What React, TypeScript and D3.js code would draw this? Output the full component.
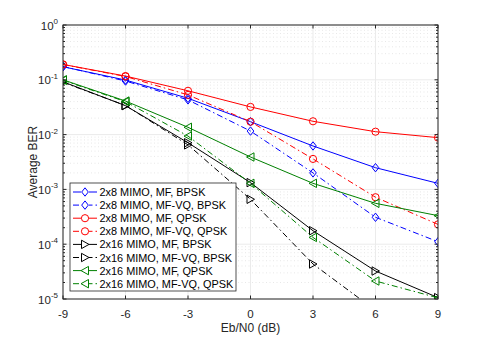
import * as d3 from 'd3';

// Eb/N0 points (dB)
const snr = [-9, -6, -3, 0, 3, 6, 9];

// BER
const mimo8MfBpsk = [0.173, 0.099, 0.046, 0.0172, 0.0062, 0.00249, 0.00129];
const mimo8VqBpsk = [0.175, 0.095, 0.043, 0.0116, 0.0020, 0.00031, 0.000111];
const mimo8MfQpsk = [0.191, 0.117, 0.063, 0.032, 0.0175, 0.0113, 0.0088];
const mimo8VqQpsk = [0.19, 0.115, 0.053, 0.0172, 0.0036, 0.00072, 0.00023];
const mimo16MfBpsk = [0.092, 0.0337, 0.0071, 0.00133, 0.000176, 0.0000324, 0.0000106];
const mimo16VqBpsk = [0.09, 0.034, 0.0065, 0.00066, 0.0000435, 0.0000062, 0.0000009];
const mimo16MfQpsk = [0.1, 0.041, 0.0136, 0.0039, 0.00129, 0.000557, 0.000332];
const mimo16VqQpsk = [0.098, 0.04, 0.0094, 0.00129, 0.000133, 0.0000213, 0.0000105];

const xTicks = [-9, -6, -3, 0, 3, 6, 9];
const yExps = [0, -1, -2, -3, -4, -5];

type Marker = 'diamond' | 'circle' | 'tright' | 'tleft';
const series: { name: string; values: number[]; color: string; dashed: boolean; marker: Marker }[] = [
  { name: '2x8 MIMO, MF, BPSK', values: mimo8MfBpsk, color: '#0000ff', dashed: false, marker: 'diamond' },
  { name: '2x8 MIMO, MF-VQ, BPSK', values: mimo8VqBpsk, color: '#0000ff', dashed: true, marker: 'diamond' },
  { name: '2x8 MIMO, MF, QPSK', values: mimo8MfQpsk, color: '#ff0000', dashed: false, marker: 'circle' },
  { name: '2x8 MIMO, MF-VQ, QPSK', values: mimo8VqQpsk, color: '#ff0000', dashed: true, marker: 'circle' },
  { name: '2x16 MIMO, MF, BPSK', values: mimo16MfBpsk, color: '#000000', dashed: false, marker: 'tright' },
  { name: '2x16 MIMO, MF-VQ, BPSK', values: mimo16VqBpsk, color: '#000000', dashed: true, marker: 'tright' },
  { name: '2x16 MIMO, MF, QPSK', values: mimo16MfQpsk, color: '#008000', dashed: false, marker: 'tleft' },
  { name: '2x16 MIMO, MF-VQ, QPSK', values: mimo16VqQpsk, color: '#008000', dashed: true, marker: 'tleft' },
];

const DASHDOT = '6,3,1.5,3';

function markerPath(m: Marker, x: number, y: number) {
  if (m === 'diamond') return `M${x},${y - 4.2}L${x + 3.3},${y}L${x},${y + 4.2}L${x - 3.3},${y}Z`;
  if (m === 'tright') return `M${x + 4},${y}L${x - 3.5},${y - 4.2}L${x - 3.5},${y + 4.2}Z`;
  if (m === 'tleft') return `M${x - 4},${y}L${x + 3.5},${y - 4.2}L${x + 3.5},${y + 4.2}Z`;
  return '';
}

function MarkerShape({ m, x, y, color }: { m: Marker; x: number; y: number; color: string }) {
  if (m === 'circle') return <circle cx={x} cy={y} r={3.6} fill="none" stroke={color} strokeWidth={1} />;
  return <path d={markerPath(m, x, y)} fill="none" stroke={color} strokeWidth={1} />;
}

export default function App() {
  const width = 485;
  const height = 337;
  const margin = { top: 25, right: 47, bottom: 38, left: 63 };
  const innerW = width - margin.left - margin.right;
  const innerH = height - margin.top - margin.bottom;

  const x = d3.scaleLinear().domain([-9, 9]).range([0, innerW]);
  const y = d3.scaleLog().domain([1e-5, 1]).range([innerH, 0]);

  const minor: number[] = [];
  for (let e = -5; e < 0; e++) {
    for (let k = 2; k <= 9; k++) minor.push(k * Math.pow(10, e));
  }

  const line = d3
    .line<number>()
    .x((_, i) => x(snr[i]))
    .y(d => y(d));

  const axisColor = '#262626';
  const font = 'Liberation Sans, Arial, sans-serif';

  // legend placement
  const lg = { x: 70 - margin.left, y: 183 - margin.top, w: 166, h: 108, row: 13.1 };

  return (
    <svg width={width} height={height} style={{ position: 'absolute', left: 0, top: 0 }} fontFamily={font}>
      <defs>
        <clipPath id="plotclip">
          <rect x={0} y={0} width={innerW} height={innerH} />
        </clipPath>
      </defs>
      <rect width={width} height={height} fill="#fff" />
      <g transform={`translate(${margin.left},${margin.top})`}>
        {/* minor grid, dotted */}
        {minor.map(v => (
          <line key={'mg' + v} x1={0} x2={innerW} y1={y(v)} y2={y(v)} stroke="#d9d9d9" strokeWidth={0.6} strokeDasharray="1,2.5" />
        ))}
        {/* major grid */}
        {yExps.map(e => (
          <line key={'gy' + e} x1={0} x2={innerW} y1={y(Math.pow(10, e))} y2={y(Math.pow(10, e))} stroke="#ebebeb" strokeWidth={1} />
        ))}
        {xTicks.map(t => (
          <line key={'gx' + t} x1={x(t)} x2={x(t)} y1={0} y2={innerH} stroke="#ebebeb" strokeWidth={1} />
        ))}

        {/* data */}
        <g clipPath="url(#plotclip)">
          {series.map(s => (
            <g key={s.name}>
              <path d={line(s.values) || ''} fill="none" stroke={s.color} strokeWidth={1} strokeDasharray={s.dashed ? DASHDOT : undefined} />
              {s.values.map((v, i) => (
                <MarkerShape key={i} m={s.marker} x={x(snr[i])} y={y(v)} color={s.color} />
              ))}
            </g>
          ))}
        </g>

        {/* axis box and ticks */}
        <rect x={0} y={0} width={innerW} height={innerH} fill="none" stroke={axisColor} strokeWidth={1} />
        {xTicks.map(t => (
          <g key={'xt' + t}>
            <line x1={x(t)} x2={x(t)} y1={innerH} y2={innerH - 3.5} stroke={axisColor} />
            <line x1={x(t)} x2={x(t)} y1={0} y2={3.5} stroke={axisColor} />
            <text x={x(t)} y={innerH + 18.5} textAnchor="middle" fontSize={11.5} fill={axisColor}>
              {t}
            </text>
          </g>
        ))}
        {yExps.map(e => (
          <g key={'yt' + e}>
            <line x1={0} x2={3.5} y1={y(Math.pow(10, e))} y2={y(Math.pow(10, e))} stroke={axisColor} />
            <line x1={innerW} x2={innerW - 3.5} y1={y(Math.pow(10, e))} y2={y(Math.pow(10, e))} stroke={axisColor} />
            <text x={-5} y={y(Math.pow(10, e)) + 4.5} textAnchor="end" fontSize={11.5} fill={axisColor}>
              10
              <tspan dy={-5.5} fontSize={8}>
                {e}
              </tspan>
            </text>
          </g>
        ))}
        {minor.map(v => (
          <g key={'mt' + v}>
            <line x1={0} x2={2} y1={y(v)} y2={y(v)} stroke={axisColor} />
            <line x1={innerW} x2={innerW - 2} y1={y(v)} y2={y(v)} stroke={axisColor} />
          </g>
        ))}

        <text x={innerW / 2} y={innerH + 33} textAnchor="middle" fontSize={12} fill={axisColor}>
          Eb/N0 (dB)
        </text>
        <text transform={`translate(${-26},${innerH / 2}) rotate(-90)`} textAnchor="middle" fontSize={12} fill={axisColor}>
          Average BER
        </text>

        {/* legend */}
        <g transform={`translate(${lg.x},${lg.y})`}>
          <rect x={0} y={0} width={lg.w} height={lg.h} fill="#fff" stroke={axisColor} strokeWidth={0.8} />
          {series.map((s, i) => {
            const cy = 9 + i * lg.row;
            return (
              <g key={'lg' + s.name}>
                <line x1={3} x2={27} y1={cy} y2={cy} stroke={s.color} strokeWidth={1} strokeDasharray={s.dashed ? DASHDOT : undefined} />
                <rect x={11} y={cy - 5} width={8} height={10} fill="#fff" />
                <MarkerShape m={s.marker} x={15} y={cy} color={s.color} />
                <text x={29.5} y={cy + 4} fontSize={10.9} fill="#000">
                  {s.name}
                </text>
              </g>
            );
          })}
        </g>
      </g>
    </svg>
  );
}
